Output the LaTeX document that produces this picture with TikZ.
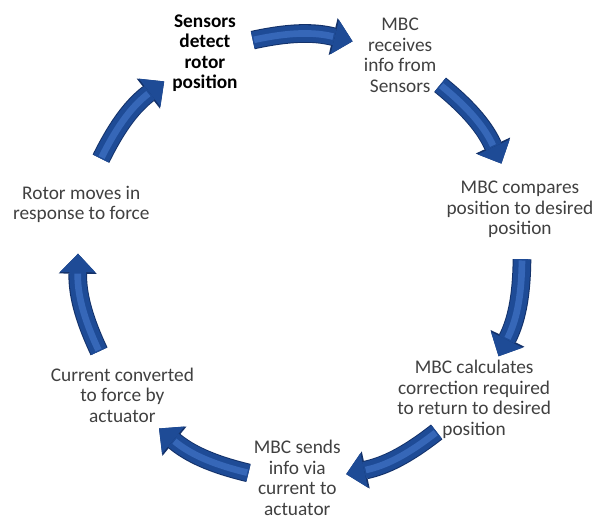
\documentclass[tikz,border=0pt]{standalone}
\usepackage{fontspec}
\setmainfont{Carlito}
\usetikzlibrary{arrows.meta}
\definecolor{txtgray}{HTML}{404040}
\definecolor{flowblue}{HTML}{1E4B96}
\definecolor{flowdark}{HTML}{14326A}
\definecolor{flowlight}{HTML}{3667B8}
\newcommand{\stagefont}{\fontsize{16.5}{17.5}\selectfont}
\tikzset{
  stage/.style={text=txtgray, align=center, font=\stagefont},
  flow/.style={draw=flowblue, line width=5mm, line cap=butt, ->,
    preaction={draw=flowdark, line width=5.6mm, line cap=butt,
      -{Triangle[width=11.4mm,length=6mm,line width=0pt]}},
    postaction={draw=flowlight, line width=2mm, line cap=butt, -,
      shorten >=6mm, shorten <=0.4mm}}
}
\begin{document}
\begin{tikzpicture}[>={Triangle[width=10.6mm,length=5.5mm,line width=0pt]}, line join=round, line cap=round]
	\useasboundingbox (-9.0,-7.95) rectangle (8.94,7.71);
	% --- Các bước của vòng điều khiển ---
	\node[stage, text=black, font=\stagefont\bfseries] (sense) at (115:6.75) {Sensors\\detect\\rotor\\position};
	\node[stage] (recv) at (63.57:6.75) {MBC\\receives\\info from\\Sensors};
	\node[stage] (comp) at (12.14:6.75) {MBC compares\\position to desired\\position};
	\node[stage] (calc) at (-39.29:6.75) {MBC calculates\\correction required\\to return to desired\\position};
	\node[stage] (send) at (-90.71:6.62) {MBC sends\\info via\\current to\\actuator};
	\node[stage] (conv) at (-142.14:6.75) {Current converted\\to force by\\actuator};
	\node[stage] (move) at (166.43:6.75) {Rotor moves in\\response to force};
	% --- Mũi tên cong ---
	\foreach \i in {0,...,6}{
		\coordinate (a\i) at ({102.3-51.43*\i}:6.66);
		\coordinate (b\i) at ({76.3-51.43*\i}:6.66);
		\draw[flow] (a\i) to[bend left=13] (b\i);
	}
\end{tikzpicture}
\end{document}
